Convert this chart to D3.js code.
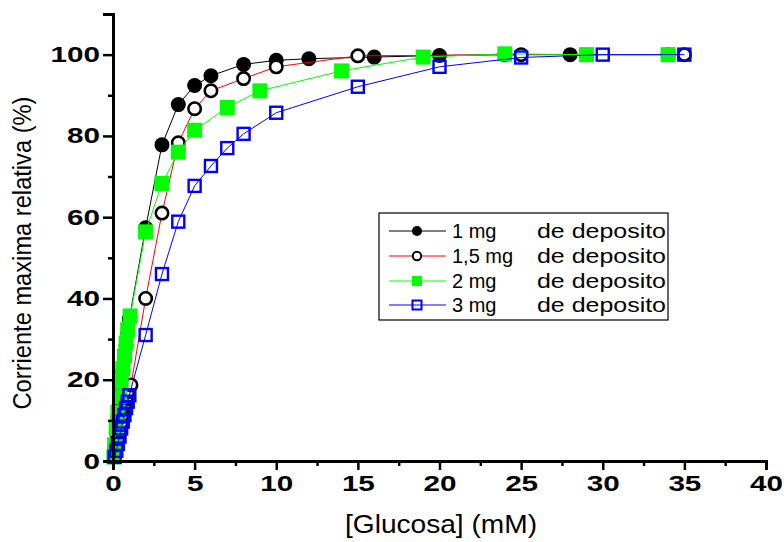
<!DOCTYPE html>
<html><head><meta charset="utf-8">
<script src="https://cdn.jsdelivr.net/npm/d3@7"></script>
<style>
html,body{margin:0;padding:0;background:#fff;}
svg{display:block;font-family:"Liberation Sans",Arial,sans-serif;}
</style></head>
<body><svg id="c" width="784" height="542"></svg>
<script>
// ---- data ----
const seriesNames = ["1 mg", "1,5 mg", "2 mg", "3 mg"];
const seriesSuffix = "de deposito";
const s1x = [0.1,0.2,0.3,0.4,0.5,0.6,0.7,0.8,0.9,1.0,2,3,4,5,6,8,10,12,16,20,24,28,34];
const s1y = [3,7,11,15,18.5,22,25,28.5,31.5,35,57.4,77.8,87.7,92.4,94.8,97.6,98.6,99.0,99.4,99.8,100,100,100];
const s2x = [0.1,0.2,0.3,0.4,0.5,0.6,0.7,0.8,0.9,1.1,2,3,4,5,6,8,10,15,25,35];
const s2y = [1.5,3.5,5.5,7.5,9.5,11.5,13.5,15.3,17,18.7,40,61,78.3,86.7,91.1,94.1,97,99.7,100,100];
const s3x = [0.05,0.1,0.2,0.3,0.4,0.5,0.6,0.7,0.8,0.9,1.05,2,3,4,5,7,9,14,19,24,29,34];
const s3y = [1,4,8,12,15.8,19.5,22.7,25.8,29,32.3,35.7,56.4,68.3,76,81.4,87,91.1,96,99.4,100.2,100,100];
const s4x = [0.1,0.2,0.3,0.4,0.5,0.6,0.7,0.8,0.9,1.0,2,3,4,5,6,7,8,10,15,20,25,30,35];
const s4y = [1,2.5,4.2,6,8,9.7,11.3,13,14.6,16.2,31,46,58.9,67.7,72.6,77,80.5,85.7,92.1,97,99.3,100,100];
const xMajor = [0,5,10,15,20,25,30,35,40];
const xMinor = [2.5,7.5,12.5,17.5,22.5,27.5,32.5,37.5];
const yMajor = [0,20,40,60,80,100];
const yMinor = [10,30,50,70,90,110];
const xTitle = "[Glucosa] (mM)";
const yTitle = "Corriente maxima relativa (%)";

const series = [
  {name: seriesNames[0], xs: s1x, ys: s1y, color: "#000000", sym: "fcircle"},
  {name: seriesNames[1], xs: s2x, ys: s2y, color: "#ff0000", sym: "ocircle"},
  {name: seriesNames[2], xs: s3x, ys: s3y, color: "#00ff00", sym: "fsquare"},
  {name: seriesNames[3], xs: s4x, ys: s4y, color: "#0000ff", sym: "osquare"}
];

const svg = d3.select("#c");
const x = d3.scaleLinear().domain([0,40]).range([113,766]);
const y = d3.scaleLinear().domain([0,110]).range([461,14]);

function drawSym(g, sym, cx, cy, big) {
  if (sym === "fcircle") {
    g.append("circle").attr("cx",cx).attr("cy",cy).attr("r", big?7.5:5).attr("fill","#000");
  } else if (sym === "ocircle") {
    g.append("circle").attr("cx",cx).attr("cy",cy).attr("r", big?6.2:4.2).attr("fill","#fff")
      .attr("stroke","#000").attr("stroke-width", big?2.6:2);
  } else if (sym === "fsquare") {
    const s = big?15:10;
    g.append("rect").attr("x",cx-s/2).attr("y",cy-s/2).attr("width",s).attr("height",s).attr("fill","#00ff00");
  } else {
    const s = big?12:9;
    g.append("rect").attr("x",cx-s/2).attr("y",cy-s/2).attr("width",s).attr("height",s).attr("fill","none")
      .attr("stroke","#0000ff").attr("stroke-width", big?2.4:2);
  }
}

// series
const line = d3.line().x(d=>x(d[0])).y(d=>y(d[1]));
series.forEach(s => {
  const pts = s.xs.map((v,i)=>[v, s.ys[i]]);
  const g = svg.append("g");
  g.append("path").attr("d", line(pts)).attr("fill","none").attr("stroke", s.color).attr("stroke-width",1);
  pts.forEach(p => drawSym(g, s.sym, x(p[0]), y(p[1]), true));
});

// axes
const xAx = svg.append("g").attr("transform","translate(0,461)")
  .call(d3.axisBottom(x).tickValues(xMajor).tickSize(9).tickPadding(4).tickFormat(d3.format("d")));
svg.append("g").attr("transform","translate(0,461)")
  .call(d3.axisBottom(x).tickValues(xMinor).tickSize(5).tickFormat("")).select(".domain").remove();
const yAx = svg.append("g").attr("transform","translate(113,0)")
  .call(d3.axisLeft(y).tickValues(yMajor).tickSize(10).tickPadding(3).tickFormat(d3.format("d")));
svg.append("g").attr("transform","translate(113,0)")
  .call(d3.axisLeft(y).tickValues(yMinor).tickSize(5).tickFormat("")).select(".domain").remove();
svg.selectAll(".domain").attr("stroke","#000").attr("stroke-width",3);
svg.selectAll(".tick line").attr("stroke","#000").attr("stroke-width",2.5);
svg.selectAll(".tick text").attr("font-family","'Liberation Sans',Arial,sans-serif")
  .attr("font-weight","bold").attr("font-size",22).attr("fill","#000")
  .each(function(){ const t=d3.select(this); const n=t.text().length;
    t.attr("textLength", n*16.5).attr("lengthAdjust","spacingAndGlyphs"); });
xAx.selectAll(".tick text").attr("dy","0.75em");

// titles
svg.append("text").attr("x",441).attr("y",533).attr("text-anchor","middle")
  .attr("font-size",25).attr("textLength",192).attr("lengthAdjust","spacingAndGlyphs").text(xTitle);
svg.append("text").attr("transform","translate(31,253) rotate(-90)").attr("text-anchor","middle")
  .attr("font-size",25).attr("textLength",313).attr("lengthAdjust","spacingAndGlyphs").text(yTitle);

// legend
const lg = svg.append("g");
lg.append("rect").attr("x",379).attr("y",213).attr("width",289).attr("height",107)
  .attr("fill","#fff").attr("stroke","#000").attr("stroke-width",1.2);
const rowY = [231,256,281,305];
series.forEach((s,i) => {
  const yy = rowY[i];
  lg.append("line").attr("x1",389).attr("x2",446).attr("y1",yy).attr("y2",yy).attr("stroke",s.color).attr("stroke-width",1);
  drawSym(lg, s.sym, 417, yy, false);
  lg.append("text").attr("x",452).attr("y",yy+7).attr("font-size",20).text(s.name);
  lg.append("text").attr("x",537).attr("y",yy+7).attr("font-size",20)
    .attr("textLength",129).attr("lengthAdjust","spacingAndGlyphs").text(seriesSuffix);
});
</script></body></html>
